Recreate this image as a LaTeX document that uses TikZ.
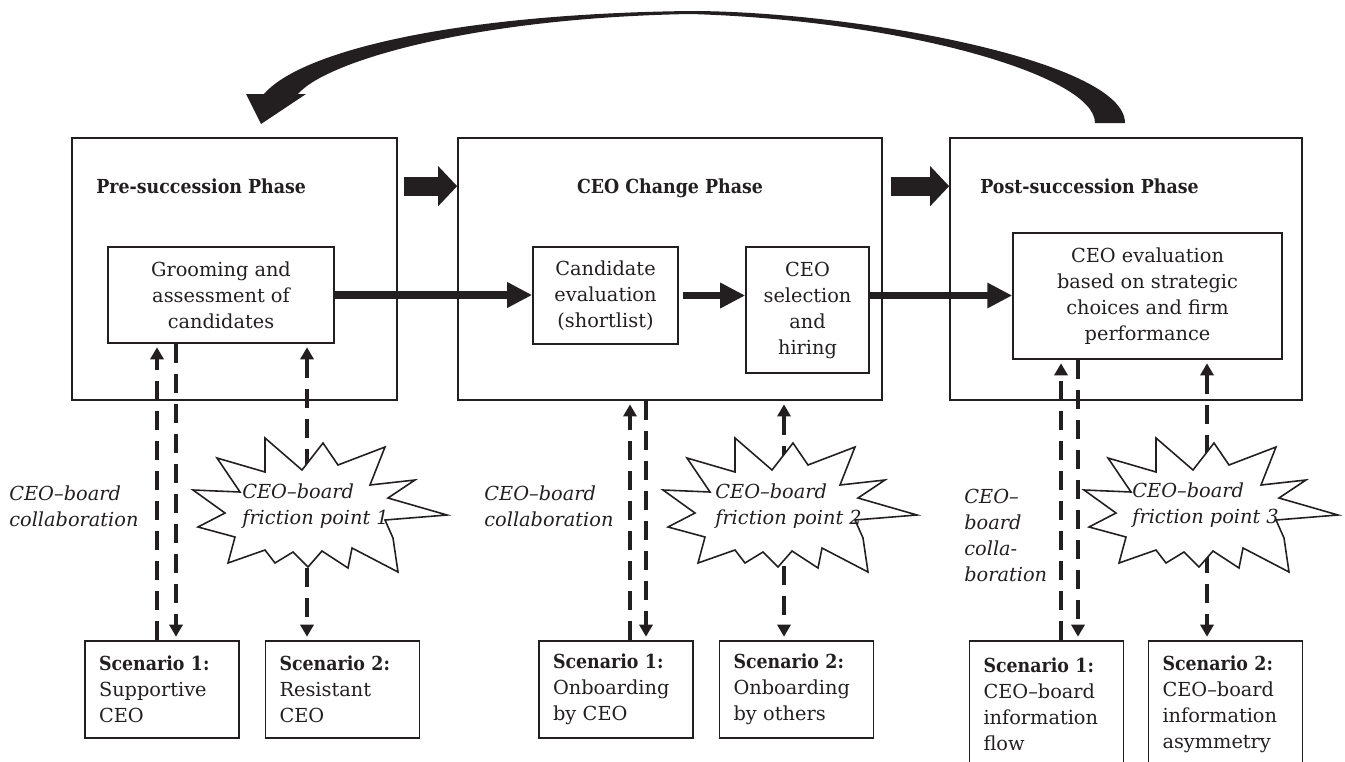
\documentclass[tikz,border=0pt]{standalone}
\usepackage{fontspec}
\setmainfont{DejaVu Serif}
\newfontfamily\headfam[FakeStretch=0.9]{DejaVu Serif}
\usetikzlibrary{arrows.meta}

\definecolor{ink}{RGB}{35,31,32}
\newcommand\boxfont{\fontsize{11}{14.8}\selectfont}
\newcommand\headfont{\headfam\fontsize{11}{13}\selectfont\bfseries}
\newcommand\scentitle[1]{{\headfam\bfseries #1}}

\tikzset{
  phase/.style={draw=ink, line width=1pt, inner sep=0pt},
  phasetitle/.style={font=\headfont, text=ink, inner sep=0pt},
  inbox/.style={draw=ink, line width=0.9pt, align=center, font=\boxfont, text=ink, inner sep=0pt},
  scen/.style={draw=ink, line width=0.9pt, align=left, font=\boxfont, text=ink,
    text width=2.52cm, inner xsep=0.28cm, inner ysep=0pt, minimum height=1.94cm},
  lab/.style={font=\boxfont\itshape, text=ink, align=left, inner sep=0pt},
  thickarr/.style={draw=ink, line width=0.15cm, -{Triangle[length=0.5cm,width=0.48cm]}},
  blockarr/.style={draw=ink, line width=0.38cm, -{Triangle[length=0.38cm,width=0.78cm]}},
  dashline/.style={draw=ink, line width=0.08cm, dash pattern=on 0.38cm off 0.22cm,
    shorten >=0.07cm, shorten <=0pt},
  burst/.pic={
    \draw[ink, fill=white, line width=0.9pt]
      (-103,-47) -- (-55,-33) -- (-55,-67) -- (-18,-35) -- (3,-62) -- (18,-40)
      -- (65,-58) -- (50,-20) -- (95,-25) -- (68,-7) -- (127,10) -- (65,15)
      -- (73,33) -- (78,67) -- (32,43) -- (28,63) -- (2,46) -- (-12,62)
      -- (-27,47) -- (-45,58) -- (-55,45) -- (-92,58) -- (-85,32) -- (-122,22)
      -- (-95,8) -- (-127,-15) -- (-80,-13) -- cycle;
  },
}

\begin{document}
\begin{tikzpicture}[x=0.02cm, y=-0.02cm, >={Triangle[length=0.24cm,width=0.26cm]}]
    \clip (0,0) rectangle (1345,761);
    \def\ty{193}   % base de los titulos

    % fases
    \node[phase, minimum width=6.5cm,  minimum height=5.24cm] (p1) at (234.5,269) {};
    \node[phase, minimum width=8.48cm, minimum height=5.24cm] (p2) at (670,269) {};
    \node[phase, minimum width=7.04cm, minimum height=5.24cm] (p3) at (1126,269) {};

    \node[phasetitle, anchor=base west] (t1) at (96,\ty)  {Pre-succession Phase};
    \node[phasetitle, anchor=base]      (t2) at (670,\ty) {CEO Change Phase};
    \node[phasetitle, anchor=base west] (t3) at (980,\ty) {Post-succession Phase};

    % cajas internas
    \node[inbox, minimum width=4.52cm, minimum height=1.92cm] (groom) at (221,295)
        {Grooming and\\assessment of\\candidates};
    \node[inbox, minimum width=2.9cm, minimum height=1.94cm] (cand) at (605.5,295.5)
        {Candidate\\evaluation\\(shortlist)};
    \node[inbox, minimum width=2.46cm, minimum height=2.52cm] (sel) at (807.5,310)
        {CEO\\selection\\and\\hiring};
    \node[inbox, minimum width=5.38cm, minimum height=2.52cm] (ceoeval) at (1147.5,296)
        {CEO evaluation\\based on strategic\\choices and firm\\performance};

    % escenarios
    \node[scen] (s11) at (162,689.5)   {\scentitle{Scenario 1:}\\Supportive\\CEO};
    \node[scen] (s12) at (342.5,689.5) {\scentitle{Scenario 2:}\\Resistant\\CEO};
    \node[scen] (s21) at (616,689.5)   {\scentitle{Scenario 1:}\\Onboarding\\by CEO};
    \node[scen] (s22) at (796.5,689.5) {\scentitle{Scenario 2:}\\Onboarding\\by others};
    \node[scen, minimum height=2.52cm] (s31) at (1046.5,704)
        {\scentitle{Scenario 1:}\\CEO–board\\information\\flow};
    \node[scen, minimum height=2.52cm] (s32) at (1225.5,704)
        {\scentitle{Scenario 2:}\\CEO–board\\information\\asymmetry};

    % flechas gruesas
    \draw[thickarr] (groom.east) -- (cand.west |- groom.east);
    \draw[thickarr] ([shift={(4,0)}]cand.east) -- (sel.west |- cand.east);
    \draw[thickarr] (sel.east |- cand.east) -- (ceoeval.west |- cand.east);
    \draw[blockarr] ([shift={(6,49)}]p1.north east) -- ([shift={(0,49)}]p2.north west);
    \draw[blockarr] ([shift={(8,49)}]p2.north east) -- ([shift={(0,49)}]p3.north west);

    % flecha de retorno
    \fill[ink] (264,94) .. controls (300,52) and (450,14) .. (690,11)
        .. controls (850,11) and (1125,60) .. (1125,123) -- (1095,123)
        .. controls (1095,75) and (900,20) .. (690,14)
        .. controls (470,18) and (325,62) .. (298,94) -- cycle;
    \fill[ink] (246,94) -- (306,94) -- (261,124) -- cycle;

    % lineas punteadas, fase 1
    \draw[dashline, ->] ([shift={(-5,0)}]s11.north) -- ([shift={(-5,0)}]s11.north |- groom.south);
    \draw[dashline, ->] ([shift={(14,0)}]s11.north |- groom.south) -- ([shift={(14,0)}]s11.north);
    \draw[dashline, <->, shorten <=0.07cm] ([shift={(-35.5,0)}]s12.north |- groom.south) -- ([shift={(-35.5,0)}]s12.north);
    % fase 2
    \draw[dashline, ->] ([shift={(14,0)}]s21.north) -- ([shift={(14,0)}]s21.north |- p2.south);
    \draw[dashline, ->] ([shift={(30,0)}]s21.north |- p2.south) -- ([shift={(30,0)}]s21.north);
    \draw[dashline, <->, shorten <=0.07cm] ([shift={(-12.5,0)}]s22.north |- p2.south) -- ([shift={(-12.5,0)}]s22.north);
    % fase 3
    \draw[dashline, ->] ([shift={(14.5,0)}]s31.north) -- ([shift={(14.5,0)}]s31.north |- ceoeval.south);
    \draw[dashline, ->] ([shift={(31.5,0)}]s31.north |- ceoeval.south) -- ([shift={(31.5,0)}]s31.north);
    \draw[dashline, <->, shorten <=0.07cm] ([shift={(-18.5,0)}]s32.north |- ceoeval.south) -- ([shift={(-18.5,0)}]s32.north);

    % puntos de friccion
    \pic at (320,505) {burst};
    \pic at (790,505) {burst};
    \pic at (1211,505) {burst};
    \node[lab, anchor=west] (f1) at (242,506)  {CEO–board\\friction point 1};
    \node[lab, anchor=west] (f2) at (715,506)  {CEO–board\\friction point 2};
    \node[lab, anchor=west] (f3) at (1132,505) {CEO–board\\friction point 3};

    % colaboracion
    \node[lab, anchor=west] (c1) at (9,506)   {CEO–board\\collaboration};
    \node[lab, anchor=west] (c2) at (484,506) {CEO–board\\collaboration};
    \node[lab, anchor=west] (c3) at (964,535) {CEO–\\board\\colla-\\boration};
\end{tikzpicture}
\end{document}
